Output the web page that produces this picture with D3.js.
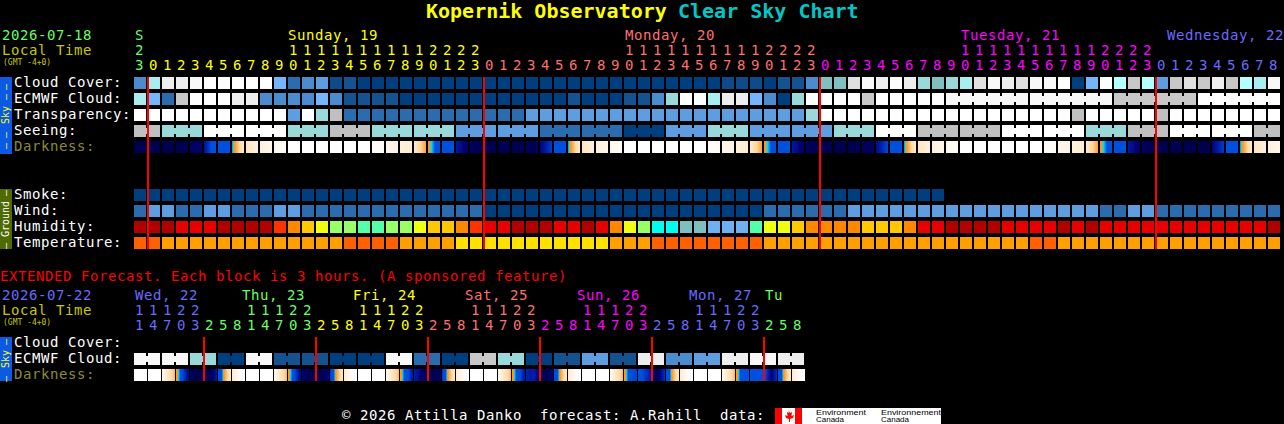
<!DOCTYPE html>
<html>
<head>
<meta charset="utf-8">
<script src="https://cdn.jsdelivr.net/npm/d3@7"></script>
<style>
  html, body { margin: 0; background: #000; overflow: hidden; }
  svg { display: block; }
  text { font-family: "DejaVu Sans Mono", monospace; font-size: 14px; letter-spacing: .57px; white-space: pre; }
  rect { shape-rendering: crispEdges; }
</style>
</head>
<body>
<div class="svg-div"></div>
<script>
// sky colours, dark blue = clear, white = overcast
const skyColors = ['#003f7f', '#0f4a8a', '#155290', '#2b6cae', '#4b8ccf', '#5e9ee0', '#77b5fa', '#80c0c0', '#99d9d9',
    '#a8eeee', '#b4ffff', '#c0c0c0', '#c8c8c8', '#e0e0e0', '#eeeeee', '#f8f8f8', '#ffffff']
const humidityColors = ['#b00000', '#e60000', '#ff3300', '#ff8800', '#ffc800', '#eeff11', '#99ff66', '#55ffaa',
    '#00ffee', '#80bfbf', '#6fb0f0']
const tempColors = ['#ff6000', '#ffa000', '#ffe000']
const darkStops = [0, 1, 2, 3, 4, 4.4, 4.6, 5, 6, 7, 8, 9]
const darkColors = ['#ffffff', '#fff4e6', '#ffe8c8', '#ffd8a0', '#ffa030', '#ff9020', '#00e0ff', '#0050e0',
    '#0050e0', '#0020b0', '#000070', '#000050']

const hours = [23, 0, 1, 2, 3, 4, 5, 6, 7, 8, 9, 10, 11, 12, 13, 14, 15, 16, 17, 18, 19, 20, 21, 22, 23,
    0, 1, 2, 3, 4, 5, 6, 7, 8, 9, 10, 11, 12, 13, 14, 15, 16, 17, 18, 19, 20, 21, 22, 23,
    0, 1, 2, 3, 4, 5, 6, 7, 8, 9, 10, 11, 12, 13, 14, 15, 16, 17, 18, 19, 20, 21, 22, 23,
    0, 1, 2, 3, 4, 5, 6, 7, 8]
const extHours = [11, 14, 17, 20, 23, 2, 5, 8, 11, 14, 17, 20, 23, 2, 5, 8, 11, 14, 17, 20, 23, 2, 5, 8,
    11, 14, 17, 20, 23, 2, 5, 8, 11, 14, 17, 20, 23, 2, 5, 8, 11, 14, 17, 20, 23, 2, 5, 8]

const dayNames = ['S', 'Sunday, 19', 'Monday, 20', 'Tuesday, 21', 'Wednesday, 22']
const dayX = [135, 288, 625, 961, 1167]
const dayFirstCol = [1, 25, 49, 73]
const dayColors = ['#66ff66', '#ffff00', '#ff7070', '#ff00ff', '#6a6aff']

const extDayNames = ['Wed, 22', 'Thu, 23', 'Fri, 24', 'Sat, 25', 'Sun, 26', 'Mon, 27', 'Tu']
const extDayX = [135, 242, 353, 465, 577, 689, 765]
const extDayFirstCol = [5, 13, 21, 29, 37, 45]
const extDayColors = ['#6a6aff', '#66ff66', '#ffff00', '#ff7070', '#ff00ff', '#6a6aff', '#66ff66']

const cloud = [4, 9, 14, 14, 15, 16, 16, 16, 16, 16, 6, 3, 4, 5, 1, 2, 0, 0, 0, 0,
    0, 0, 0, 0, 0, 0, 0, 0, 0, 0, 0, 0, 0, 0, 0, 0, 0, 0, 0, 0,
    0, 0, 1, 1, 1, 0, 2, 2, 4, 7, 7, 13, 15, 14, 16, 14, 8, 7, 8, 9,
    13, 15, 14, 13, 15, 15, 16, 0, 6, 16, 10, 12, 10, 5, 12, 13, 12, 14, 12, 10,
    9, 15]
const ecmwf = [9, 6, 3, 12, 16, 16, 16, 14, 14, 4, 4, 4, 4, 6, 4, 2, 2, 2, 2, 0,
    0, 0, 0, 0, 0, 0, 0, 0, 0, 0, 0, 2, 0, 0, 0, 2, 2, 4, 8, 16,
    16, 9, 14, 14, 6, 4, 0, 8, 16, 16, 16, 16, 12, 16, 16, 16, 16, 16, 15, 15,
    15, 15, 15, 15, 15, 15, 15, 15, 15, 15, 12, 12, 12, 12, 12, 12, 16, 16, 16, 16,
    16, 16]
const transparency = [16, 16, 16, 16, 16, 16, 16, 16, 16, 16, 16, 5, 16, 8, 11, 3, 3, 3, 3, 3,
    3, 3, 3, 3, 3, 3, 3, 3, 5, 5, 5, 5, 5, 5, 5, 5, 5, 5, 5, 5,
    5, 5, 5, 5, 5, 5, 5, 5, 8, 16, 16, 16, 16, 16, 16, 16, 16, 16, 16, 16,
    16, 16, 16, 16, 16, 16, 16, 11, 16, 16, 16, 16, 16, 11, 16, 16, 16, 16, 16, 16,
    16, 16]
const seeing = [11, 11, 8, 8, 8, 16, 16, 16, 16, 16, 16, 8, 8, 8, 11, 11, 11, 8, 8, 8,
    8, 8, 8, 5, 5, 5, 5, 5, 5, 3, 3, 3, 3, 3, 3, 0, 0, 0, 5, 5,
    5, 8, 8, 8, 5, 5, 5, 5, 5, 5, 8, 8, 8, 16, 16, 16, 11, 11, 11, 11,
    11, 11, 16, 16, 16, 16, 16, 16, 8, 8, 8, 11, 11, 11, 16, 16, 16, 16, 16, 16,
    11, 11]
const smoke = [0, 0, 0, 0, 0, 0, 0, 0, 0, 0, 0, 0, 0, 0, 0, 0, 0, 0, 0, 0,
    0, 0, 0, 0, 0, 0, 0, 0, 0, 0, 0, 0, 0, 0, 0, 0, 0, 0, 0, 0,
    0, 0, 0, 0, 0, 0, 0, 0, 0, 0, 0, 0, 0, 0, 0, 0, 0, 0]
const wind = [3, 5, 5, 3, 3, 5, 5, 3, 3, 3, 5, 5, 3, 3, 3, 3, 3, 3, 3, 3,
    3, 3, 3, 3, 3, 0, 0, 0, 0, 0, 0, 0, 0, 0, 0, 0, 0, 0, 0, 0,
    0, 0, 0, 0, 0, 3, 3, 3, 3, 3, 3, 5, 5, 5, 5, 5, 5, 5, 5, 5,
    5, 5, 5, 5, 5, 5, 5, 5, 5, 3, 3, 5, 5, 3, 3, 3, 3, 3, 3, 3,
    3, 3]
const humidity = [0, 0, 0, 1, 1, 1, 0, 0, 0, 0, 2, 3, 4, 5, 6, 6, 7, 7, 6, 6,
    5, 4, 4, 3, 2, 1, 1, 0, 0, 0, 1, 1, 0, 1, 3, 5, 6, 8, 8, 9,
    9, 10, 10, 10, 7, 5, 5, 4, 3, 3, 3, 3, 4, 4, 4, 3, 1, 1, 0, 0,
    0, 0, 1, 1, 1, 1, 0, 1, 0, 1, 1, 1, 1, 1, 1, 1, 1, 1, 1, 1,
    1, 0]
const temperature = [0, 0, 1, 1, 1, 1, 1, 1, 1, 1, 1, 1, 1, 1, 1, 0, 0, 0, 0, 1,
    1, 1, 1, 2, 2, 2, 2, 2, 2, 2, 2, 2, 2, 2, 1, 1, 1, 0, 0, 0,
    0, 0, 0, 0, 0, 1, 1, 1, 1, 1, 1, 1, 1, 1, 1, 1, 1, 1, 1, 1,
    1, 1, 1, 1, 0, 0, 1, 1, 1, 1, 1, 1, 1, 1, 1, 1, 1, 1, 1, 1,
    1, 1]

// start and end of each hour
const darkness = [9, 9, 9, 9, 9, 9, 9, 9, 8.6, 8.2, 7.4, 5.2, 5, 5, 4.75, 2, 2.2, 1.4, 1.4, .8, .7, .3,
    0, 0, 0, 0, 0, 0, 0, 0, 0, 0, 0, 0, .1, .3, .8, 1.1, 1.3, 1.7, 2, 3.9, 4.3, 5.5, 5.5, 5.5, 7.3, 8.2, 8.5, 9,
    9, 9, 9, 9, 9, 9, 8.8, 8.8, 7.8, 6.5, 5.5, 5.5, 4.75, 2, 2.2, 1.4, 1.4, .8, .7, .3,
    0, 0, 0, 0, 0, 0, 0, 0, 0, 0, 0, 0, .1, .3, .8, 1.1, 1.3, 1.7, 2, 3.9, 4.3, 5.5, 5.5, 5.5, 7.3, 8.2, 8.5, 9,
    9, 9, 9, 9, 9, 9, 8.8, 8.5, 7.6, 6.2, 5.5, 5.5, 4.75, 2, 2.2, 1.4, 1.4, .8, .7, .3,
    0, 0, 0, 0, 0, 0, 0, 0, 0, 0, 0, 0, .1, .3, .8, 1.1, 1.3, 1.7, 2, 3.9, 4.3, 5.5, 5.5, 5.5, 7.3, 8.2, 8.5, 9,
    9, 9, 9, 9, 9, 9, 9, 9, 7.8, 6.5, 5.5, 5.5, 4.75, 2, 2.2, 1.4, 1.4, .8]

// four samples in each 3 hour block
const extDarkness = [0, 0, 0, 0, 0, 0, 0, 0, .8, 1.6, 2.5, 3.3, 4.2, 5, 6.5, 7.5, 8.5, 9, 9, 9, 9, 9, 8.5, 7.5, 6, 4.9, 3.6, 2.4, 1.8, 1, .3, 0,
    0, 0, 0, 0, 0, 0, 0, 0, .8, 1.6, 2.5, 3.3, 4.2, 5, 6.5, 7.5, 8, 8.6, 9, 9, 9, 9, 8.6, 8, 6.5, 4.9, 3.6, 2.4, 1.8, 1, .3, 0,
    0, 0, 0, 0, 0, 0, 0, 0, .8, 1.6, 2.5, 3.3, 4.2, 5, 6, 7, 7.2, 7.5, 8.2, 8.6, 8.8, 9, 8.8, 8.5, 6.5, 4.9, 3.6, 2.4, 1.8, 1, .3, 0,
    0, 0, 0, 0, 0, 0, 0, 0, .8, 1.6, 2.5, 3.3, 4.2, 5, 6, 7, 7, 7.2, 7, 7.8, 8.5, 9, 8.8, 8, 6, 4.9, 3.6, 2.4, 1.8, 1, .3, 0,
    0, 0, 0, 0, 0, 0, 0, 0, .8, 1.6, 2.5, 3.3, 4.2, 5, 6, 6.3, 5.6, 6, 6.6, 7, 8.5, 8.8, 8, 7, 6, 4.9, 3.6, 2.4, 1.8, 1, .3, 0,
    0, 0, 0, 0, 0, 0, 0, 0, .8, 1.6, 2.5, 3.3, 4.2, 5, 5.5, 5.8, 5.5, 5.5, 5.5, 5.5, 5.8, 7, 8, 7, 6, 4.9, 3.6, 2.4, 1.8, 1, .3, 0]

const extEcmwf = [15, 15, 15, 15, 8, 8, 0, 0, 15, 15, 2, 2, 2, 2, 0, 0, 0, 0, 15, 15, 3, 3, 0, 0,
    12, 12, 8, 8, 0, 0, 2, 2, 5, 5, 2, 2, 14, 14, 4, 4, 5, 5, 14, 14, 15, 15, 14, 14]

// first column of each joined forecast block
const seeingJoins = [0, 2, 5, 8, 11, 14, 17, 20, 23, 26, 29, 32, 35, 38, 41, 44, 47, 50, 53, 56, 59, 62, 65, 68, 71, 74, 77, 80]
const seeingLens = [2, 3, 3, 3, 3, 3, 3, 3, 3, 3, 3, 3, 3, 3, 3, 3, 3, 3, 3, 3, 3, 3, 3, 3, 3, 3, 3, 2]
const ecmwfJoins = [58, 64, 70, 76]
const extJoins = [0, 2, 4, 6, 8, 10, 12, 14, 16, 18, 20, 22, 24, 26, 28, 30, 32, 34, 36, 38, 40, 42, 44, 46]

const redLineCols = [1, 25, 49, 73]
const extRedLineCols = [5, 13, 21, 29, 37, 45]

const w = 1284
const h = 424

const svg = d3.select('.svg-div').append('svg').attr('width', w).attr('height', h)
svg.append('rect').attr('width', w).attr('height', h).attr('fill', '#000')

const x = d3.scaleBand().domain(d3.range(82)).range([134, 1280]).paddingInner(1 / 7)
const extX = d3.scaleBand().domain(d3.range(48)).range([134, 804]).paddingInner(1 / 7)

const skyY = d3.scaleBand().domain(['Cloud Cover:', 'ECMWF Cloud:', 'Transparency:', 'Seeing:', 'Darkness:'])
    .range([77, 153]).paddingInner(.25)
const groundY = d3.scaleBand().domain(['Smoke:', 'Wind:', 'Humidity:', 'Temperature:'])
    .range([189, 249]).paddingInner(.25)
const extY = d3.scaleBand().domain(['Cloud Cover:', 'ECMWF Cloud:', 'Darkness:'])
    .range([337, 381]).paddingInner(.25)

const skyColor = d3.scaleOrdinal().domain(d3.range(skyColors.length)).range(skyColors)
const humidityColor = d3.scaleOrdinal().domain(d3.range(humidityColors.length)).range(humidityColors)
const tempColor = d3.scaleOrdinal().domain(d3.range(tempColors.length)).range(tempColors)
const darkColor = d3.scaleLinear().domain(darkStops).range(darkColors).interpolate(d3.interpolateRgb)

function label(str, px, py, color, size) {
    const t = svg.append('text')
        .attr('x', px)
        .attr('y', py)
        .attr('fill', color)
        .text(str)
    if (size) t.style('font-size', size + 'px').style('letter-spacing', 0)
    return t
}

function cells(values, xs, py, height, color) {
    svg.append('g').selectAll('rect')
        .data(values)
        .enter()
        .append('rect')
        .attr('x', (d, i) => xs(i))
        .attr('y', py)
        .attr('width', xs.bandwidth())
        .attr('height', height)
        .attr('fill', d => color(d))
}

// the small bridges between cells of one forecast block
function joins(values, starts, lens, xs, py) {
    const links = []
    starts.forEach((s, k) => {
        d3.range(s, s + lens[k] - 1).forEach(c => links.push(c))
    })
    svg.append('g').selectAll('rect')
        .data(links)
        .enter()
        .append('rect')
        .attr('x', d => xs(d) + xs.bandwidth())
        .attr('y', py + 3)
        .attr('width', xs.step() - xs.bandwidth())
        .attr('height', 6)
        .attr('fill', d => skyColor(values[d]))
}

function darknessCells(samples, perCell, xs, py, height) {
    const slices = []
    const bw = xs.bandwidth()
    xs.domain().forEach(c => {
        const stops = samples.slice(c * perCell, (c + 1) * perCell)
        const along = d3.scaleLinear().domain(d3.range(perCell).map(k => k / (perCell - 1) * (bw - 1))).range(stops)
        d3.range(bw).forEach(k => slices.push({ c: c, k: k, v: along(k) }))
    })
    svg.append('g').selectAll('rect')
        .data(slices)
        .enter()
        .append('rect')
        .attr('x', d => xs(d.c) + d.k)
        .attr('y', py)
        .attr('width', 1)
        .attr('height', height)
        .attr('fill', d => darkColor(d.v))
}

function redLines(cols, xs, top, bottom) {
    svg.append('g').selectAll('rect')
        .data(cols)
        .enter()
        .append('rect')
        .attr('x', d => xs(d) - 1)
        .attr('y', top)
        .attr('width', 2)
        .attr('height', bottom - top)
        .attr('fill', '#ff0000')
}

function hourLabels(list, xs, colorOf, tensY, unitsY) {
    const g = svg.append('g').attr('text-anchor', 'middle')
    g.selectAll('.units').data(list).enter().append('text')
        .attr('class', 'units')
        .attr('x', (d, i) => xs(i) + 5.5)
        .attr('y', unitsY)
        .attr('fill', (d, i) => colorOf(i))
        .text(d => d % 10)
    g.selectAll('.tens').data(list).enter().append('text')
        .attr('class', 'tens')
        .attr('x', (d, i) => xs(i) + 5.5)
        .attr('y', tensY)
        .attr('fill', (d, i) => colorOf(i))
        .text(d => d >= 10 ? Math.floor(d / 10) : '')
}

// rotated text on the side bars
function sideBar(top, bottom, fill, color, word, wordY, dashes) {
    svg.append('rect').attr('x', 0).attr('y', top).attr('width', 12).attr('height', bottom - top).attr('fill', fill)
    svg.append('text')
        .attr('transform', 'translate(9,' + wordY + ') rotate(-90)')
        .attr('text-anchor', 'middle')
        .attr('fill', color)
        .style('font-size', '10px')
        .style('letter-spacing', 0)
        .text(word)
    dashes.forEach(dy => {
        svg.append('text')
            .attr('transform', 'translate(9,' + dy + ') rotate(-90)')
            .attr('text-anchor', 'middle')
            .attr('fill', color)
            .style('font-size', '10px')
            .style('letter-spacing', 0)
            .text('—')
    })
}

// title
label('Kopernik Observatory', 426, 18, '#ffff00', 20).style('font-weight', 'bold')
label('Clear Sky Chart', 678, 18, '#00c8c8', 20).style('font-weight', 'bold')

// main chart header
label('2026-07-18', 2, 40, '#66ff66')
label('Local Time', 2, 55, '#c8c800')
label('(GMT -4+0)', 3, 65, '#c8c800', 8)

dayNames.forEach((d, i) => label(d, dayX[i], 40, dayColors[i]))
const mainDay = d3.scaleThreshold().domain(dayFirstCol).range(dayColors)
hourLabels(hours, x, mainDay, 55, 70)

// sky rows
skyY.domain().forEach(name => {
    label(name, 14, skyY(name) + 10, name === 'Darkness:' ? '#8b8b3a' : '#fff')
})
cells(cloud, x, skyY('Cloud Cover:'), skyY.bandwidth(), skyColor)
cells(ecmwf, x, skyY('ECMWF Cloud:'), skyY.bandwidth(), skyColor)
joins(ecmwf, ecmwfJoins, [6, 6, 6, 6], x, skyY('ECMWF Cloud:'))
cells(transparency, x, skyY('Transparency:'), skyY.bandwidth(), skyColor)
cells(seeing, x, skyY('Seeing:'), skyY.bandwidth(), skyColor)
joins(seeing, seeingJoins, seeingLens, x, skyY('Seeing:'))
darknessCells(darkness, 2, x, skyY('Darkness:'), skyY.bandwidth())

// ground rows
groundY.domain().forEach(name => label(name, 14, groundY(name) + 10, '#fff'))
cells(smoke, x, groundY('Smoke:'), groundY.bandwidth(), skyColor)
cells(wind, x, groundY('Wind:'), groundY.bandwidth(), skyColor)
cells(humidity, x, groundY('Humidity:'), groundY.bandwidth(), humidityColor)
cells(temperature, x, groundY('Temperature:'), groundY.bandwidth(), tempColor)

redLines(redLineCols, x, 77, 249)
sideBar(77, 154, '#0a5ae6', '#ffff00', 'Sky', 115, [87, 97, 135, 146])
sideBar(189, 249, '#4f6a00', '#fff', 'Ground', 219, [193, 246])

// extended forecast
label('EXTENDED Forecast. Each block is 3 hours. (A sponsored feature)', 0, 281, '#ff0000')
label('2026-07-22', 2, 300, '#6a6aff')
label('Local Time', 2, 315, '#c8c800')
label('(GMT -4+0)', 3, 325, '#c8c800', 8)

extDayNames.forEach((d, i) => label(d, extDayX[i], 300, extDayColors[i]))
const extDay = d3.scaleThreshold().domain(extDayFirstCol).range(extDayColors)
hourLabels(extHours, extX, extDay, 315, 330)

extY.domain().forEach(name => {
    label(name, 14, extY(name) + 10, name === 'Darkness:' ? '#8b8b3a' : '#fff')
})
cells(extEcmwf, extX, extY('ECMWF Cloud:'), extY.bandwidth(), skyColor)
joins(extEcmwf, extJoins, extJoins.map(() => 2), extX, extY('ECMWF Cloud:'))
darknessCells(extDarkness, 4, extX, extY('Darkness:'), extY.bandwidth())

redLines(extRedLineCols, extX, 337, 381)
sideBar(337, 381, '#0a5ae6', '#ffff00', 'Sky', 359, [342, 379])

// footer
label('© 2026 Attilla Danko  forecast: A.Rahill  data:', 342, 420, '#fff')

svg.append('rect').attr('x', 775).attr('y', 408).attr('width', 166).attr('height', 16).attr('fill', '#fff')
svg.append('rect').attr('x', 775).attr('y', 408).attr('width', 7).attr('height', 16).attr('fill', '#ff0000')
svg.append('rect').attr('x', 795).attr('y', 408).attr('width', 7).attr('height', 16).attr('fill', '#ff0000')
svg.append('path')
    .attr('d', 'M788.5 410l1.5 3 2-1-.5 4 2.5-1-1 3-3 1v3h-1v-3l-3-1-1-3 2.5 1-.5-4 2 1z')
    .attr('fill', '#ff0000')
const logoWords = [['Environment', 816, 415, 50], ['Canada', 816, 422, 28], ['Environnement', 881, 415, 60], ['Canada', 881, 422, 28]]
logoWords.forEach(d => {
    svg.append('text')
        .attr('x', d[1])
        .attr('y', d[2])
        .attr('fill', '#000')
        .attr('textLength', d[3])
        .attr('lengthAdjust', 'spacingAndGlyphs')
        .style('font-family', '"Liberation Sans", sans-serif')
        .style('font-size', '8px')
        .style('letter-spacing', 0)
        .text(d[0])
})
</script>
</body>
</html>
